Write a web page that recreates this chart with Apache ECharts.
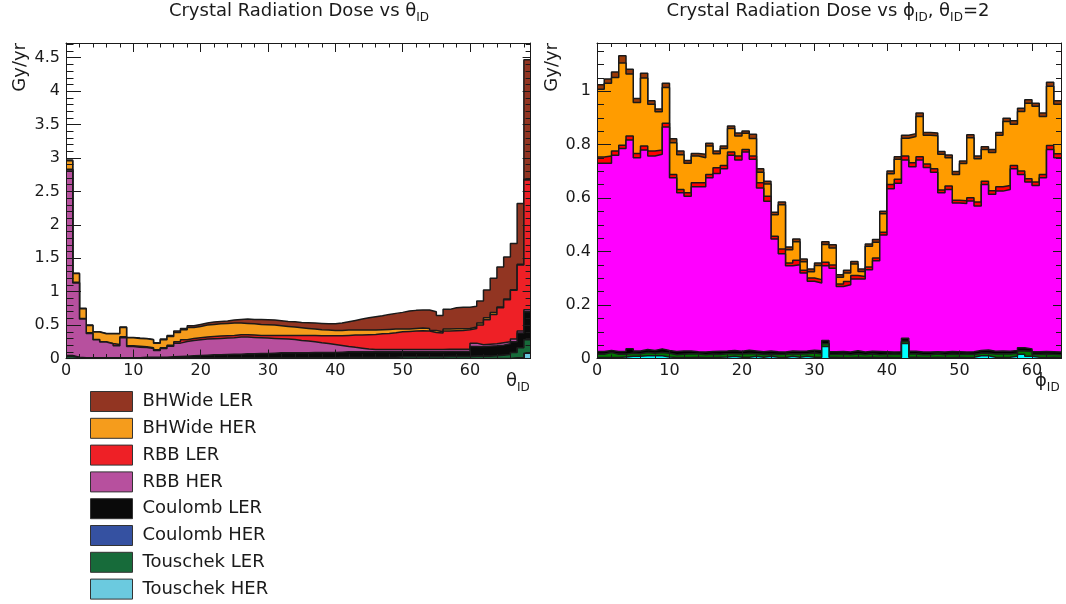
<!DOCTYPE html>
<html>
<head>
<meta charset="utf-8">
<script src="https://cdn.jsdelivr.net/npm/echarts@6/dist/echarts.min.js"></script>
<style>
html, body { margin: 0; padding: 0; background: #fff; }
#chart { width: 1066px; height: 604px; }
</style>
</head>
<body>
<div id="chart"></div>
<script>
// stack order, bottom to top
var seriesNames = ['Touschek HER', 'Touschek LER', 'Coulomb HER', 'Coulomb LER',
                   'RBB HER', 'RBB LER', 'BHWide HER', 'BHWide LER'];

// ---- left panel: dose per theta_ID bin (69 bins) ----
var thetaTouschekHER = [
  0, 0, 0, 0, 0, 0, 0, 0, 0, 0,
  0, 0, 0, 0, 0, 0, 0, 0, 0, 0,
  0, 0, 0, 0, 0, 0, 0, 0, 0, 0,
  0, 0, 0, 0, 0, 0, 0, 0, 0, 0,
  0, 0, 0, 0, 0, 0, 0, 0, 0, 0,
  0, 0, 0, 0, 0, 0, 0, 0, 0, 0,
  0, 0, 0, 0, 0, 0, 0.01, 0.01, 0.08];
var thetaTouschekLER = [
  0.035, 0.01, 0.003, 0.003, 0.003, 0.003, 0.003, 0.003, 0.003, 0.003,
  0.003, 0.003, 0.003, 0.003, 0.003, 0.005, 0.005, 0.005, 0.005, 0.005,
  0.005, 0.005, 0.005, 0.005, 0.005, 0.005, 0.005, 0.005, 0.005, 0.005,
  0.01, 0.01, 0.01, 0.01, 0.01, 0.01, 0.01, 0.01, 0.01, 0.01,
  0.015, 0.015, 0.015, 0.015, 0.015, 0.015, 0.015, 0.015, 0.015, 0.025,
  0.025, 0.025, 0.025, 0.025, 0.025, 0.025, 0.03, 0.03, 0.03, 0.03,
  0.035, 0.035, 0.035, 0.04, 0.05, 0.06, 0.08, 0.15, 0.2];
var thetaCoulombHER = [
  0, 0, 0, 0, 0, 0, 0, 0, 0, 0,
  0, 0, 0, 0, 0, 0, 0, 0, 0, 0,
  0, 0, 0, 0, 0, 0, 0, 0, 0, 0,
  0, 0, 0, 0, 0, 0, 0, 0, 0, 0,
  0, 0, 0, 0, 0, 0, 0, 0, 0, 0,
  0, 0, 0, 0, 0, 0, 0, 0, 0, 0,
  0, 0, 0, 0, 0, 0, 0, 0, 0];
var thetaCoulombLER = [
  0.01, 0.01, 0.01, 0.01, 0.01, 0.01, 0.01, 0.01, 0.01, 0.01,
  0.01, 0.015, 0.015, 0.015, 0.015, 0.02, 0.025, 0.03, 0.035, 0.04,
  0.045, 0.05, 0.05, 0.055, 0.06, 0.06, 0.065, 0.065, 0.07, 0.07,
  0.07, 0.075, 0.075, 0.075, 0.075, 0.075, 0.08, 0.08, 0.08, 0.08,
  0.08, 0.085, 0.085, 0.085, 0.085, 0.085, 0.085, 0.085, 0.085, 0.075,
  0.075, 0.075, 0.075, 0.075, 0.075, 0.075, 0.075, 0.075, 0.075, 0.075,
  0.145, 0.14, 0.15, 0.15, 0.15, 0.16, 0.16, 0.22, 0.42];
var thetaRbbHER = [
  2.775, 1.11, 0.577, 0.362, 0.267, 0.232, 0.207, 0.177, 0.297, 0.167,
  0.157, 0.147, 0.132, 0.102, 0.132, 0.16, 0.2, 0.22, 0.23, 0.235,
  0.24, 0.24, 0.245, 0.245, 0.245, 0.255, 0.25, 0.245, 0.235, 0.23,
  0.22, 0.21, 0.205, 0.2, 0.185, 0.175, 0.16, 0.147, 0.135, 0.12,
  0.1, 0.08, 0.067, 0.055, 0.042, 0.035, 0.035, 0.035, 0.035, 0.035,
  0.035, 0.035, 0.035, 0.035, 0.035, 0.035, 0.035, 0.035, 0.035, 0.035,
  0.05, 0.03, 0.03, 0.03, 0.035, 0.03, 0.04, 0.03, 0.03];
var thetaRbbLER = [
  0.01, 0.01, 0.01, 0.01, 0.005, 0.005, 0.005, 0.02, 0.015, 0.01,
  0.015, 0.01, 0.01, 0.01, 0.01, 0.015, 0.02, 0.025, 0.03, 0.03,
  0.03, 0.035, 0.035, 0.035, 0.035, 0.035, 0.035, 0.035, 0.035, 0.04,
  0.045, 0.05, 0.055, 0.06, 0.075, 0.085, 0.093, 0.103, 0.115, 0.13,
  0.145, 0.165, 0.183, 0.195, 0.213, 0.225, 0.235, 0.24, 0.25, 0.265,
  0.27, 0.275, 0.28, 0.275, 0.255, 0.245, 0.27, 0.275, 0.28, 0.29,
  0.22, 0.295, 0.365, 0.44, 0.525, 0.63, 0.73, 0.99, 1.94];
var thetaBhwideHER = [
  0.13, 0.13, 0.145, 0.11, 0.11, 0.12, 0.145, 0.16, 0.14, 0.12,
  0.115, 0.12, 0.12, 0.1, 0.12, 0.13, 0.14, 0.15, 0.165, 0.17,
  0.18, 0.18, 0.185, 0.185, 0.185, 0.175, 0.17, 0.17, 0.165, 0.16,
  0.155, 0.145, 0.135, 0.125, 0.115, 0.105, 0.097, 0.09, 0.085, 0.08,
  0.08, 0.08, 0.075, 0.075, 0.07, 0.065, 0.06, 0.06, 0.055, 0.04,
  0.035, 0.04, 0.04, 0.04, 0.03, 0.02, 0.03, 0.03, 0.025, 0.02,
  0.02, 0.03, 0.03, 0.03, 0.01, 0.01, 0.01, 0.01, 0.01];
var thetaBhwideLER = [
  0.01, 0.005, 0.005, 0.005, 0.005, 0.005, 0.005, 0.005, 0.005, 0.005,
  0.005, 0.005, 0.005, 0.005, 0.01, 0.015, 0.02, 0.02, 0.025, 0.03,
  0.03, 0.035, 0.035, 0.035, 0.045, 0.055, 0.065, 0.065, 0.075, 0.075,
  0.075, 0.075, 0.075, 0.08, 0.08, 0.085, 0.09, 0.095, 0.095, 0.1,
  0.11, 0.125, 0.145, 0.165, 0.185, 0.2, 0.21, 0.225, 0.235, 0.25,
  0.27, 0.27, 0.27, 0.275, 0.28, 0.245, 0.295, 0.315, 0.32, 0.315,
  0.31, 0.33, 0.415, 0.51, 0.6, 0.63, 0.69, 0.91, 1.79];

// ---- right panel: dose per phi_ID bin at theta_ID=2 (64 bins) ----
var phiTouschekHER = [
  0.004, 0.004, 0.004, 0.006, 0.008, 0.008, 0.01, 0.01, 0.01, 0.006,
  0.004, 0.004, 0.004, 0.005, 0.004, 0.004, 0.005, 0.006, 0.008, 0.005,
  0.005, 0.008, 0.005, 0.008, 0.005, 0.004, 0.008, 0.005, 0.008, 0.005,
  0.005, 0.045, 0.005, 0.004, 0.004, 0.005, 0.004, 0.005, 0.004, 0.005,
  0.004, 0.005, 0.056, 0.005, 0.004, 0.004, 0.005, 0.004, 0.004, 0.005,
  0.004, 0.005, 0.01, 0.01, 0.005, 0.004, 0.005, 0.008, 0.016, 0.008,
  0.005, 0.004, 0.005, 0.004];
var phiTouschekLER = [
  0.012, 0.018, 0.012, 0.01, 0.012, 0.01, 0.012, 0.01, 0.012, 0.014,
  0.01, 0.012, 0.014, 0.012, 0.01, 0.012, 0.01, 0.012, 0.01, 0.012,
  0.014, 0.01, 0.01, 0.008, 0.01, 0.012, 0.01, 0.012, 0.01, 0.016,
  0.012, 0.01, 0.01, 0.012, 0.01, 0.012, 0.01, 0.012, 0.01, 0.01,
  0.012, 0.01, 0.008, 0.012, 0.01, 0.01, 0.012, 0.01, 0.012, 0.01,
  0.012, 0.01, 0.01, 0.01, 0.012, 0.014, 0.012, 0.012, 0.012, 0.018,
  0.01, 0.012, 0.01, 0.01];
var phiCoulombHER = [
  0, 0, 0, 0, 0, 0, 0, 0, 0, 0,
  0, 0, 0, 0, 0, 0, 0, 0, 0, 0,
  0, 0, 0, 0, 0, 0, 0, 0, 0, 0,
  0, 0, 0, 0, 0, 0, 0, 0, 0, 0,
  0, 0, 0, 0, 0, 0, 0, 0, 0, 0,
  0, 0, 0, 0, 0, 0, 0, 0, 0, 0,
  0, 0, 0, 0];
var phiCoulombLER = [
  0.01, 0.008, 0.01, 0.01, 0.016, 0.01, 0.012, 0.01, 0.014, 0.01,
  0.012, 0.012, 0.01, 0.008, 0.01, 0.01, 0.012, 0.01, 0.012, 0.01,
  0.012, 0.01, 0.01, 0.012, 0.01, 0.008, 0.01, 0.01, 0.01, 0.01,
  0.012, 0.012, 0.01, 0.01, 0.01, 0.012, 0.01, 0.01, 0.012, 0.01,
  0.008, 0.01, 0.012, 0.01, 0.01, 0.01, 0.008, 0.01, 0.01, 0.01,
  0.008, 0.01, 0.01, 0.012, 0.01, 0.01, 0.01, 0.01, 0.012, 0.01,
  0.01, 0.01, 0.01, 0.01];
var phiRbbHER = [
  0.704, 0.700, 0.734, 0.759, 0.781, 0.723, 0.746, 0.727, 0.728, 0.836,
  0.650, 0.592, 0.579, 0.617, 0.618, 0.650, 0.665, 0.682, 0.730, 0.715,
  0.741, 0.717, 0.613, 0.560, 0.422, 0.368, 0.319, 0.324, 0.292, 0.258,
  0.253, 0.280, 0.313, 0.243, 0.252, 0.268, 0.273, 0.305, 0.340, 0.437,
  0.611, 0.630, 0.666, 0.690, 0.718, 0.690, 0.672, 0.596, 0.606, 0.557,
  0.556, 0.564, 0.540, 0.619, 0.587, 0.598, 0.605, 0.680, 0.648, 0.624,
  0.622, 0.650, 0.757, 0.727];
var phiRbbLER = [
  0.024, 0.027, 0.016, 0.013, 0.015, 0.016, 0.015, 0.019, 0.016, 0.014,
  0.012, 0.012, 0.013, 0.015, 0.015, 0.012, 0.021, 0.012, 0.012, 0.015,
  0.010, 0.012, 0.019, 0.019, 0.010, 0.018, 0.010, 0.016, 0.010, 0.012,
  0.013, 0.013, 0.012, 0.010, 0.012, 0.013, 0.010, 0.010, 0.010, 0.010,
  0.016, 0.015, 0.015, 0.015, 0.013, 0.013, 0.013, 0.010, 0.013, 0.010,
  0.010, 0.012, 0.015, 0.012, 0.013, 0.016, 0.015, 0.012, 0.013, 0.012,
  0.013, 0.012, 0.015, 0.015];
var phiBhwideHER = [
  0.253, 0.272, 0.275, 0.307, 0.232, 0.190, 0.254, 0.175, 0.143, 0.134,
  0.119, 0.130, 0.110, 0.100, 0.094, 0.107, 0.053, 0.063, 0.088, 0.075,
  0.060, 0.066, 0.040, 0.046, 0.081, 0.165, 0.050, 0.070, 0.032, 0.023,
  0.053, 0.066, 0.063, 0.025, 0.032, 0.043, 0.018, 0.078, 0.059, 0.069,
  0.040, 0.075, 0.067, 0.098, 0.150, 0.108, 0.123, 0.134, 0.106, 0.096,
  0.139, 0.225, 0.162, 0.119, 0.143, 0.193, 0.239, 0.154, 0.223, 0.283,
  0.283, 0.217, 0.221, 0.185];
var phiBhwideLER = [
  0.017, 0.016, 0.021, 0.027, 0.018, 0.015, 0.018, 0.013, 0.010, 0.015,
  0.015, 0.014, 0.011, 0.010, 0.013, 0.010, 0.010, 0.010, 0.010, 0.011,
  0.009, 0.016, 0.013, 0.010, 0.009, 0.010, 0.010, 0.010, 0.010, 0.011,
  0.009, 0.011, 0.012, 0.009, 0.010, 0.010, 0.010, 0.008, 0.010, 0.010,
  0.010, 0.010, 0.011, 0.011, 0.013, 0.010, 0.010, 0.010, 0.010, 0.011,
  0.010, 0.011, 0.010, 0.010, 0.012, 0.010, 0.013, 0.013, 0.012, 0.013,
  0.012, 0.013, 0.015, 0.013];

var thetaColors = ['#6bcadf', '#176b3a', '#3551a1', '#0a0a0a', '#b7509e', '#ee2026', '#f59c1c', '#923522'];
var phiColors = ['#00ffff', '#007a00', '#0000ff', '#000000', '#ff00ff', '#ff0000', '#ff9c00', '#9b3a06'];

var FONT = 'DejaVu Sans';
var INK = '#1a1a1a';

// running sums, so each layer is drawn from 0 up to its own top (ROOT THStack style)
function cumulative(parts) {
  var run = parts[0].map(function () { return 0; });
  return parts.map(function (values) {
    run = run.map(function (r, i) { return r + values[i]; });
    return run;
  });
}

// bin i covers [i, i+1]; extra point closes the last bin
function histPoints(values) {
  var pts = values.map(function (v, i) { return [i, v]; });
  pts.push([values.length, values[values.length - 1]]);
  return pts;
}

function panelSeries(parts, colors, axisIndex) {
  return cumulative(parts).map(function (level, k) {
    return {
      name: seriesNames[k],
      type: 'line',
      step: 'end',
      xAxisIndex: axisIndex,
      yAxisIndex: axisIndex,
      data: histPoints(level),
      symbol: 'none',
      z: 10 - k, // lower layers painted over the taller ones
      lineStyle: { color: INK, width: 1.5 },
      areaStyle: { color: colors[k], opacity: 1 },
      itemStyle: { color: colors[k] },
      emphasis: { disabled: true }
    };
  });
}

function valueAxis(gridIndex, position, max, interval, tickLen, withLine, withLabels, margin) {
  return {
    type: 'value',
    gridIndex: gridIndex,
    position: position,
    min: 0,
    max: max,
    interval: interval,
    z: 20,
    axisLine: { show: withLine, onZero: false, lineStyle: { color: INK, width: 1 } },
    axisTick: { show: true, inside: true, length: tickLen, lineStyle: { color: INK, width: 1 } },
    axisLabel: {
      show: withLabels, margin: margin || 4, fontFamily: FONT, fontSize: 16, color: INK,
      showMinLabel: true, showMaxLabel: false
    },
    splitLine: { show: false }
  };
}

var thetaParts = [thetaTouschekHER, thetaTouschekLER, thetaCoulombHER, thetaCoulombLER,
                  thetaRbbHER, thetaRbbLER, thetaBhwideHER, thetaBhwideLER];
var phiParts = [phiTouschekHER, phiTouschekLER, phiCoulombHER, phiCoulombLER,
                phiRbbHER, phiRbbLER, phiBhwideHER, phiBhwideLER];

var titleRich = {
  m: { fontFamily: FONT, fontSize: 18, color: INK, verticalAlign: 'top' },
  s: { fontFamily: FONT, fontSize: 12, color: INK, verticalAlign: 'top', padding: [10, 0, 0, 0] }
};

function idLabel(x, y, symbol) {
  return {
    type: 'text', x: x, y: y, z: 30,
    style: {
      text: '{m|' + symbol + '}{s|ID}',
      verticalAlign: 'top',
      rich: {
        m: { fontFamily: FONT, fontSize: 18, fill: INK, verticalAlign: 'top' },
        s: { fontFamily: FONT, fontSize: 12, fill: INK, verticalAlign: 'top', padding: [10, 0, 0, 0] }
      }
    }
  };
}

function unitLabel(x) {
  return {
    type: 'text', x: x, y: 43, rotation: Math.PI / 2, z: 30,
    style: { text: 'Gy/yr', fontFamily: FONT, fontSize: 18, fill: INK, align: 'right', verticalAlign: 'middle' }
  };
}

var legendOrder = seriesNames.slice().reverse();

var option = {
  animation: false,
  textStyle: { fontFamily: FONT },
  title: [
    {
      text: '{m|Crystal Radiation Dose vs θ}{s|ID}',
      left: 299, top: 2, textAlign: 'center', padding: 0,
      textStyle: { fontFamily: FONT, fontSize: 18, fontWeight: 'normal', color: INK, rich: titleRich }
    },
    {
      text: '{m|Crystal Radiation Dose vs ϕ}{s|ID}{m|, θ}{s|ID}{m|=2}',
      left: 828, top: 2, textAlign: 'center', padding: 0,
      textStyle: { fontFamily: FONT, fontSize: 18, fontWeight: 'normal', color: INK, rich: titleRich }
    }
  ],
  legend: {
    orient: 'vertical',
    left: 90,
    top: 391,
    height: 240,
    padding: 0,
    icon: 'rect',
    itemWidth: 42,
    itemHeight: 20,
    itemGap: 5.8,
    selectedMode: false,
    itemStyle: { borderColor: '#333', borderWidth: 1 },
    textStyle: { fontFamily: FONT, fontSize: 18, color: INK, lineHeight: 20, padding: [0, 0, 0, 5] },
    data: legendOrder.map(function (name) {
      return { name: name, itemStyle: { color: thetaColors[seriesNames.indexOf(name)] } };
    })
  },
  graphic: [
    unitLabel(20),
    unitLabel(552),
    idLabel(506, 372, 'θ'),
    idLabel(1035, 372, 'ϕ')
  ],
  grid: [
    { left: 66, right: 535.4, top: 43, bottom: 245.5, outerBoundsMode: 'none' },
    { left: 597, right: 5, top: 43, bottom: 245.5, outerBoundsMode: 'none' }
  ],
  xAxis: [
    valueAxis(0, 'bottom', 69, 10, 9, true, true, 4),
    valueAxis(0, 'bottom', 69, 2, 4.5, false, false),
    valueAxis(0, 'top', 69, 10, 9, true, false),
    valueAxis(0, 'top', 69, 2, 4.5, false, false),
    valueAxis(1, 'bottom', 64, 10, 8, true, true, 4),
    valueAxis(1, 'bottom', 64, 2, 4, false, false),
    valueAxis(1, 'top', 64, 10, 8, true, false),
    valueAxis(1, 'top', 64, 2, 4, false, false)
  ],
  yAxis: [
    valueAxis(0, 'left', 4.72, 0.5, 15, true, true, 6),
    valueAxis(0, 'left', 4.72, 0.1, 7.5, false, false),
    valueAxis(0, 'right', 4.72, 0.5, 8, true, false),
    valueAxis(0, 'right', 4.72, 0.1, 5, false, false),
    valueAxis(1, 'left', 1.18, 0.2, 14, true, true, 6),
    valueAxis(1, 'left', 1.18, 0.05, 7, false, false),
    valueAxis(1, 'right', 1.18, 0.2, 8, true, false),
    valueAxis(1, 'right', 1.18, 0.05, 5, false, false)
  ],
  series: panelSeries(thetaParts, thetaColors, 0).concat(panelSeries(phiParts, phiColors, 4))
};

var myChart = echarts.init(document.getElementById('chart'));
myChart.setOption(option);
window.addEventListener('resize', myChart.resize);
</script>
</body>
</html>
